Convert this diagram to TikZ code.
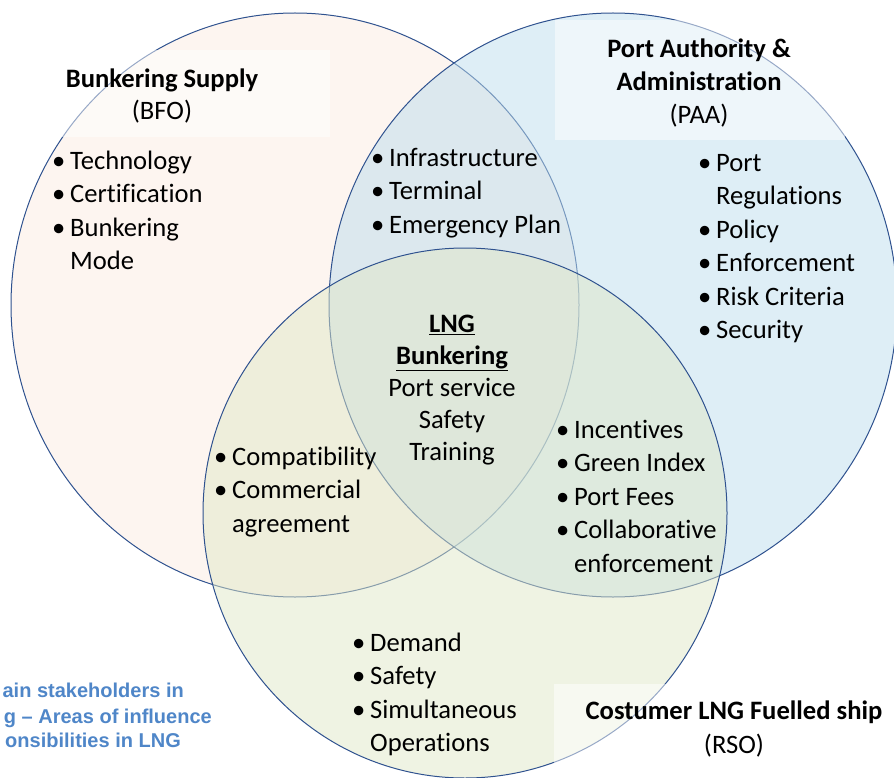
\documentclass[tikz,border=0pt]{standalone}
\usepackage{fontspec}
\setmainfont{Carlito}[Ligatures={TeX,NoCommon}]
\newfontfamily\capfont{Liberation Sans}
\definecolor{vennline}{RGB}{47,82,143}
\definecolor{bfofill}{RGB}{251,235,225}
\definecolor{paafill}{RGB}{189,221,237}
\definecolor{rsofill}{RGB}{223,231,199}
\definecolor{captionblue}{RGB}{79,134,200}
\newcommand{\tstrut}{\rule{0pt}{19pt}}
\newcommand{\vbul}{\makebox[18pt][l]{\tstrut\textbullet}}
\newcommand{\vgap}{\hspace*{18pt}}
\tikzset{
  venn/.style={draw=vennline, line width=1pt, fill opacity=0.5},
  headbox/.style={fill=white, fill opacity=0.5},
  head/.style={font=\fontsize{26.6}{32}\selectfont\bfseries, align=center, anchor=north, inner sep=0pt},
  items/.style={align=left, anchor=north west, inner sep=0pt},
  caption/.style={font=\capfont\fontsize{20}{25}\selectfont\bfseries, text=captionblue, anchor=base east, inner sep=0pt},
}
\begin{document}
\begin{tikzpicture}[x=1pt, y=-1pt, font=\fontsize{26.6}{33.5}\selectfont]
  \useasboundingbox (0,0) rectangle (894,778);

  % the three stakeholders
  \draw[venn, fill=bfofill] (295,305) ellipse [x radius=284, y radius=292];
  \draw[venn, fill=paafill] (613,305) ellipse [x radius=284, y radius=292];
  \draw[venn, fill=rsofill] (465,513) ellipse [x radius=262, y radius=265];

  % heading boxes
  \fill[headbox] (60,50) rectangle (330,137);
  \fill[headbox] (555,20) rectangle (845,140);
  \fill[headbox] (554,684) rectangle (894,778);

  \node[head] (bfo) at (162,68) {\tstrut Bunkering Supply\\\mdseries(BFO)};
  \node[head, font=\fontsize{26.6}{33}\selectfont\bfseries] (paa) at (699,38)
    {\tstrut Port Authority \&\\Administration\\\mdseries(PAA)};
  \node[head, font=\fontsize{26.6}{34}\selectfont\bfseries] (rso) at (734,700)
    {\tstrut Costumer LNG Fuelled ship\\\mdseries(RSO)};

  \node[items] (bfolist) at (52,150)
    {\vbul Technology\\\vbul Certification\\\vbul Bunkering\\\vgap Mode};
  \node[items] (sharedtop) at (371,147)
    {\vbul Infrastructure\\\vbul Terminal\\\vbul Emergency Plan};
  \node[items] (paalist) at (698,152)
    {\vbul Port\\\vgap Regulations\\\vbul Policy\\\vbul Enforcement\\\vbul Risk Criteria\\\vbul Security};
  \node[align=center, anchor=north, inner sep=0pt, font=\fontsize{26.6}{32}\selectfont] (core) at (452,313)
    {\tstrut\textbf{\underline{LNG}}\\\textbf{\underline{Bunkering}}\\Port service\\Safety\\Training};
  \node[items] (sharedleft) at (214,446)
    {\vbul Compatibility\\\vbul Commercial\\\vgap agreement};
  \node[items] (sharedright) at (556,419)
    {\vbul Incentives\\\vbul Green Index\\\vbul Port Fees\\\vbul Collaborative\\\vgap enforcement};
  \node[items] (rsolist) at (352,632)
    {\vbul Demand\\\vbul Safety\\\vbul Simultaneous\\\vgap Operations};

  % cut caption
  \node[caption] (cap1) at (184,697) {ain stakeholders in};
  \node[caption] (cap2) at (212,723) {g \textendash{} Areas of influence};
  \node[caption] (cap3) at (181,747) {onsibilities in LNG};
\end{tikzpicture}
\end{document}
